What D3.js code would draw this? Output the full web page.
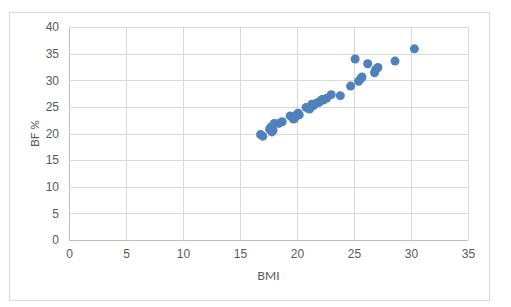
<!DOCTYPE html>
<html>
<head>
<meta charset="utf-8">
<script src="https://cdn.jsdelivr.net/npm/d3@7"></script>
<style>
	html, body { margin: 0; padding: 0; background: #fff; }
	svg { display: block; font-family: Lato, "Liberation Sans", sans-serif; }
</style>
</head>
<body>
<svg id="chart" width="511" height="307"></svg>
<script>
;(() => {
	'use strict';

	// data
	const bmi = [16.8, 17.0, 17.7, 17.8, 17.6, 18.0, 18.4, 18.7, 19.4, 19.7, 19.6, 19.9, 20.0, 20.2, 19.8,
			20.8, 21.0, 21.1, 21.4, 21.5, 21.7, 21.9, 22.0, 22.3, 22.6, 23.0, 23.8, 24.7, 25.4, 25.7, 25.6,
			25.1, 26.2, 26.8, 26.9, 27.1, 28.6, 30.3, 17.9, 20.1, 21.3, 22.2],
		bodyFat = [19.8, 19.5, 21.2, 20.3, 20.8, 21.9, 21.9, 22.2, 23.3, 22.7, 23.0, 23.2, 23.6, 23.5, 22.9,
			24.9, 24.7, 24.6, 25.2, 25.4, 25.7, 25.8, 26.0, 26.3, 26.6, 27.3, 27.1, 28.9, 29.8, 30.6, 30.3,
			34.0, 33.1, 31.4, 32.0, 32.4, 33.6, 35.9, 20.6, 23.8, 25.5, 26.4];

	const xTicks = [0, 5, 10, 15, 20, 25, 30, 35],
		yTicks = [0, 5, 10, 15, 20, 25, 30, 35, 40];

	const xTitle = 'BMI',
		yTitle = 'BF %';

	const plot = { left: 69, right: 468, top: 27, bottom: 240 },
		gridColor = '#d9d9d9',
		axisColor = '#bfbfbf',
		textColor = '#595959',
		dotColor = '#4f81bd';

	const svg = d3.select('#chart');

	// chart border
	svg.append('rect')
		.attr('x', 9.5).attr('y', 12.5)
		.attr('width', 480).attr('height', 288)
		.attr('fill', '#fff')
		.attr('stroke', gridColor);

	const x = d3.scaleLinear().domain([0, 35]).range([plot.left, plot.right]),
		y = d3.scaleLinear().domain([0, 40]).range([plot.bottom, plot.top]);

	// gridlines
	const xAxis = d3.axisBottom(x).tickValues(xTicks)
		.tickSize(-(plot.bottom - plot.top)).tickPadding(9);
	const yAxis = d3.axisLeft(y).tickValues(yTicks)
		.tickSize(-(plot.right - plot.left)).tickPadding(10);

	const gx = svg.append('g')
		.attr('transform', `translate(0,${plot.bottom})`)
		.call(xAxis);
	const gy = svg.append('g')
		.attr('transform', `translate(${plot.left},0)`)
		.call(yAxis);

	[gx, gy].forEach((g) => {
		g.select('.domain').remove();
		g.selectAll('.tick line')
			.attr('stroke', gridColor)
			.attr('shape-rendering', 'crispEdges');
		g.selectAll('.tick text')
			.attr('fill', textColor)
			.style('font-size', '12px');
	});

	// axis lines over the grid
	gx.selectAll('.tick').filter((d) => d === 0).select('line').attr('stroke', axisColor);
	gy.selectAll('.tick').filter((d) => d === 0).select('line').attr('stroke', axisColor);

	// points
	const points = bmi.map((v, i) => ({ bmi: v, bf: bodyFat[i] }));
	svg.append('g')
		.selectAll('circle')
		.data(points)
		.enter()
		.append('circle')
		.attr('cx', (d) => x(d.bmi))
		.attr('cy', (d) => y(d.bf))
		.attr('r', 4.5)
		.attr('fill', dotColor);

	// axis titles
	svg.append('text')
		.attr('x', (plot.left + plot.right) / 2)
		.attr('y', 280)
		.attr('text-anchor', 'middle')
		.attr('fill', textColor)
		.style('font-size', '12px')
		.text(xTitle);

	svg.append('text')
		.attr('transform', `translate(39,${(plot.top + plot.bottom) / 2}) rotate(-90)`)
		.attr('text-anchor', 'middle')
		.attr('fill', textColor)
		.style('font-size', '12px')
		.text(yTitle);
})();
</script>
</body>
</html>
